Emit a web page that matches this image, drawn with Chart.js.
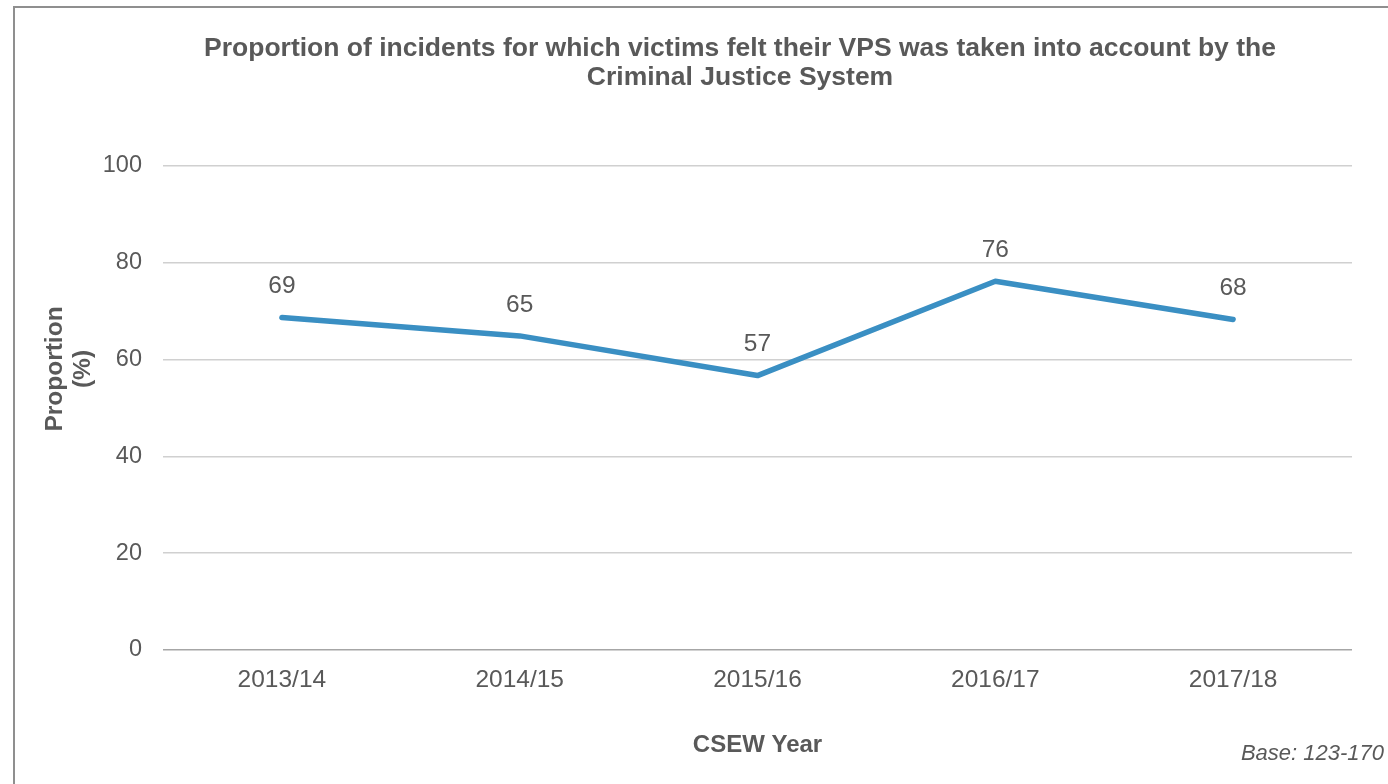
<!DOCTYPE html>
<html>
<head>
<meta charset="utf-8">
<script src="https://cdn.jsdelivr.net/npm/chart.js@4.4.1/dist/chart.umd.min.js"></script>
<style>
  html, body { margin: 0; padding: 0; background: #ffffff; overflow: hidden; }
  #frame { position: absolute; left: 13px; top: 6px; width: 1400px; height: 800px; border: 2px solid #8f8f8f; box-sizing: border-box; }
  #wrap { position: absolute; left: 0; top: 0; width: 1388px; height: 784px; }
</style>
</head>
<body>
<div id="frame"></div>
<div id="wrap"><canvas id="c" width="1388" height="784"></canvas></div>
<script>
const categories = ['2013/14', '2014/15', '2015/16', '2016/17', '2017/18'];
const proportionValues = [68.7, 64.9, 56.7, 76.2, 68.3];
const yTickValues = [0, 20, 40, 60, 80, 100];
const titleLines = ['Proportion of incidents for which victims felt their VPS was taken into account by the', 'Criminal Justice System'];
const xAxisTitle = 'CSEW Year';
const yAxisTitleLines = ['Proportion', '(%)'];
const baseNote = 'Base: 123-170';

const TEXT = '#595959';
const FONT = '"Liberation Sans", Arial, Helvetica, sans-serif';

const extras = {
  id: 'extras',
  afterDatasetsDraw(chart) {
    const ctx = chart.ctx;
    const meta = chart.getDatasetMeta(0);
    ctx.save();
    ctx.fillStyle = TEXT;
    ctx.textAlign = 'center';
    ctx.textBaseline = 'middle';
    // chart title
    ctx.font = 'bold 26.5px ' + FONT;
    titleLines.forEach((t, i) => ctx.fillText(t, 740, 49 + i * 29));
    // data labels
    ctx.font = '24.5px ' + FONT;
    meta.data.forEach((pt, i) => {
      ctx.fillText(String(Math.round(proportionValues[i])), pt.x, pt.y - 31);
    });
    // y axis title
    ctx.font = 'bold 24.5px ' + FONT;
    const cy = 369;
    const xs = [55, 83];
    yAxisTitleLines.forEach((t, i) => {
      ctx.save();
      ctx.translate(xs[i], cy);
      ctx.rotate(-Math.PI / 2);
      ctx.fillText(t, 0, 0);
      ctx.restore();
    });
    // base note
    ctx.font = 'italic 22px ' + FONT;
    ctx.textAlign = 'right';
    ctx.fillText(baseNote, 1384, 754);
    ctx.restore();
  }
};

new Chart(document.getElementById('c'), {
  type: 'line',
  data: {
    labels: categories,
    datasets: [{
      data: proportionValues,
      borderColor: '#3a8fc3',
      borderWidth: 5.5,
      borderCapStyle: 'round',
      borderJoinStyle: 'round',
      pointRadius: 0,
      tension: 0,
      fill: false
    }]
  },
  options: {
    responsive: false,
    animation: false,
    devicePixelRatio: 1,
    layout: { padding: { left: 0, right: 36, top: 166, bottom: 0 } },
    plugins: {
      legend: { display: false },
      tooltip: { enabled: false },
      title: { display: false }
    },
    scales: {
      x: {
        offset: true,
        grid: { display: false, drawTicks: false },
        border: { display: false },
        ticks: { color: TEXT, font: { family: FONT, size: 24.5 }, padding: 16, maxRotation: 0 },
        title: { display: true, text: xAxisTitle, color: TEXT, font: { family: FONT, size: 24, weight: 'bold' }, padding: { top: 0, bottom: 24 } },
        afterFit(s) { s.height = 134; }
      },
      y: {
        min: 0,
        max: 100,
        afterBuildTicks(s) { s.ticks = yTickValues.map(v => ({ value: v })); },
        grid: {
          drawTicks: false,
          color: ctx => ctx.tick && ctx.tick.value === 0 ? '#a6a6a6' : '#d0d0d0',
          lineWidth: 1.5
        },
        border: { display: false },
        ticks: { color: TEXT, font: { family: FONT, size: 23.5 }, padding: 21, callback: v => String(v) },
        afterFit(s) { s.width = 163; }
      }
    }
  },
  plugins: [extras]
});
</script>
</body>
</html>
